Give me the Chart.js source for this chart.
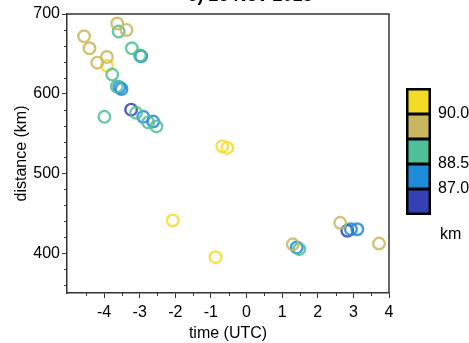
<!DOCTYPE html>
<html>
<head>
<meta charset="utf-8">
<script src="https://cdn.jsdelivr.net/npm/chart.js@4"></script>
<style>
  html, body { margin: 0; padding: 0; background: #fff; }
  canvas { display: block; }
</style>
</head>
<body>
<canvas id="chart" width="469" height="343"></canvas>
<script>
// height bins (colour classes), top to bottom of the colour bar
const binColors = ["#f4dc26", "#c9b75f", "#4ebf96", "#1e8ad8", "#3341b5"];
const binLabels = ["90.0", "88.5", "87.0"];

// time (UTC) and distance (km) for each height bin
const yellowX = [-3.92, -0.68, -0.54, -2.07, -0.87];
const yellowY = [635, 534, 532, 441, 395];

const khakiX = [-3.63, -3.37, -4.56, -4.41, -3.92, -4.19, 2.63, 3.72, 1.30];
const khakiY = [688, 680, 672, 657, 646, 639, 438, 412, 411];

const greenX = [-3.59, -3.22, -2.99, -3.77, -3.64, -3.10, -3.99, -2.76, -2.53, 1.48];
const greenY = [678, 657, 648, 624, 609, 576, 571, 564, 559, 405];

const blueX = [-2.96, -3.57, -3.51, -2.90, -2.62, 2.93, 3.11, 1.41];
const blueY = [647, 608, 606, 571, 565, 430, 430, 407];

const darkX = [-3.24, 2.83];
const darkY = [580, 428];

const xTicks = [-4, -3, -2, -1, 0, 1, 2, 3, 4];
const yTicks = [400, 500, 600, 700];

function pts(xs, ys) {
  return xs.map((x, i) => ({ x: x, y: ys[i] }));
}

function series(xs, ys, color) {
  return {
    data: pts(xs, ys),
    borderColor: color + "d8",
    backgroundColor: "rgba(0,0,0,0)",
    borderWidth: 2.4,
    pointRadius: 5.8,
    pointStyle: "circle"
  };
}

const axisColor = "#333";
const font = { family: "'Liberation Sans', Arial, sans-serif", size: 16 };

const extras = {
  id: "extras",
  afterDraw(chart) {
    const ctx = chart.ctx;
    const a = chart.chartArea;
    const xs = chart.scales.x;
    const ys = chart.scales.y;
    ctx.save();

    // frame top and right
    ctx.strokeStyle = axisColor;
    ctx.lineWidth = 1.5;
    ctx.beginPath();
    ctx.moveTo(a.left, a.top);
    ctx.lineTo(a.right, a.top);
    ctx.lineTo(a.right, a.bottom);
    ctx.stroke();

    // minor ticks
    ctx.lineWidth = 1;
    ctx.beginPath();
    for (let v = -5; v <= 4; v += 0.5) {
      if (Number.isInteger(v)) continue;
      const px = Math.round(xs.getPixelForValue(v)) + 0.5;
      ctx.moveTo(px, a.bottom);
      ctx.lineTo(px, a.bottom + 3);
    }
    for (let v = 360; v <= 700; v += 20) {
      if (v % 100 === 0) continue;
      const py = Math.round(ys.getPixelForValue(v)) + 0.5;
      ctx.moveTo(a.left, py);
      ctx.lineTo(a.left - 3, py);
    }
    ctx.stroke();

    // title, clipped at the top of the picture
    ctx.fillStyle = "#000";
    ctx.font = "bold 18px 'Liberation Sans', Arial, sans-serif";
    ctx.textAlign = "center";
    ctx.textBaseline = "alphabetic";
    ctx.fillText("c) 26 Nov 2016", 250, 1);

    // colour bar
    const bx = 406, bw = 25, top = 88, bh = 25;
    ctx.fillStyle = "#000";
    ctx.fillRect(bx, top, bw, bh * binColors.length + 2);
    binColors.forEach((c, i) => {
      ctx.fillStyle = c;
      ctx.fillRect(bx + 2.5, top + 2.5 + i * bh, bw - 5, bh - 3);
    });
    ctx.fillStyle = "#000";
    ctx.font = "16px 'Liberation Sans', Arial, sans-serif";
    ctx.textAlign = "left";
    ctx.textBaseline = "middle";
    ctx.fillText(binLabels[0], 438, top + 1 + bh);
    ctx.fillText(binLabels[1], 438, top + 1 + 3 * bh);
    ctx.fillText(binLabels[2], 438, top + 1 + 4 * bh);
    ctx.fillText("km", 440, 235);
    ctx.restore();
  }
};

new Chart(document.getElementById("chart"), {
  type: "scatter",
  data: {
    datasets: [
      series(khakiX, khakiY, binColors[1]),
      series(greenX, greenY, binColors[2]),
      series(blueX, blueY, binColors[3]),
      series(darkX, darkY, binColors[4]),
      series(yellowX, yellowY, binColors[0])
    ]
  },
  options: {
    responsive: false,
    animation: false,
    devicePixelRatio: 1,
    layout: { padding: { top: 14, right: 80, left: 0, bottom: 0 } },
    plugins: {
      legend: { display: false },
      tooltip: { enabled: false }
    },
    scales: {
      x: {
        type: "linear",
        min: -5.04,
        max: 4,
        afterBuildTicks: s => { s.ticks = xTicks.map(v => ({ value: v })); },
        afterFit: s => { s.height = 50; },
        ticks: { color: "#000", font: font, padding: 5, maxRotation: 0 },
        grid: { drawOnChartArea: false, tickLength: 5, color: axisColor, lineWidth: 1 },
        border: { color: axisColor, width: 1.5 },
        title: { display: true, text: "time (UTC)", color: "#000", font: font, padding: { top: 3, bottom: 0 } }
      },
      y: {
        type: "linear",
        min: 350,
        max: 700,
        afterBuildTicks: s => { s.ticks = yTicks.map(v => ({ value: v })); },
        afterFit: s => { s.width = 67; },
        ticks: { color: "#000", font: font, padding: 2 },
        grid: { drawOnChartArea: false, tickLength: 5, color: axisColor, lineWidth: 1 },
        border: { color: axisColor, width: 1.5 },
        title: { display: true, text: "distance (km)", color: "#000", font: font, padding: { top: 12, bottom: 0 } }
      }
    }
  },
  plugins: [extras]
});
</script>
</body>
</html>
